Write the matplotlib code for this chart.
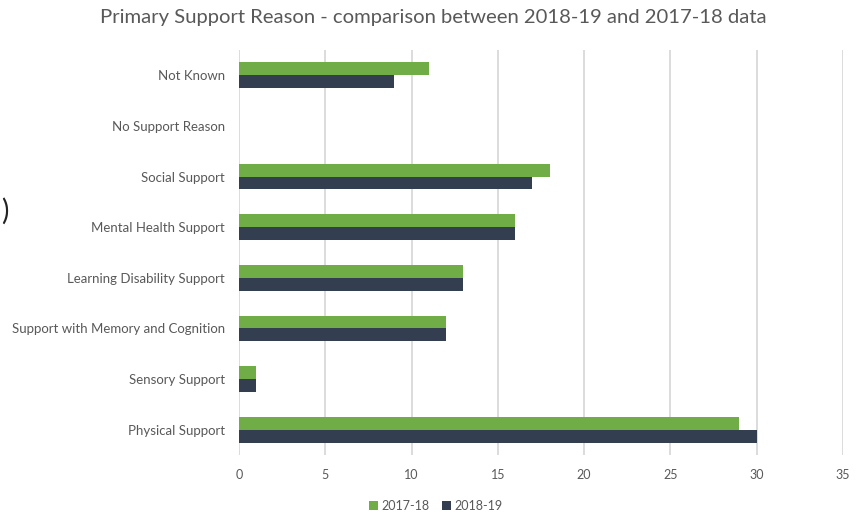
import matplotlib
matplotlib.use("Agg")
import matplotlib.pyplot as plt
import numpy as np

categories = ["Physical Support", "Sensory Support", "Support with Memory and Cognition",
              "Learning Disability Support", "Mental Health Support", "Social Support",
              "No Support Reason", "Not Known"]
vals_1718 = [29, 1, 12, 13, 16, 18, 0, 11]
vals_1819 = [30, 1, 12, 13, 16, 17, 0, 9]
xticks = [0, 5, 10, 15, 20, 25, 30, 35]

plt.rcParams['font.family'] = ['Lato', 'DejaVu Sans']

fig = plt.figure(figsize=(8.62, 5.15), dpi=100)
ax = fig.add_axes([239 / 862, 1 - 455 / 515, (843 - 239) / 862, (455 - 50) / 515])

y = np.arange(len(categories))
h = 0.255
ax.barh(y + h / 2, vals_1718, height=h, color="#70AD47", label="2017-18", zorder=3)
ax.barh(y - h / 2, vals_1819, height=h, color="#333F50", label="2018-19", zorder=3)

ax.set_xlim(0, 35)
ax.set_ylim(-0.5, len(categories) - 0.5)
ax.set_xticks(xticks)
ax.set_yticks(y)
ax.set_yticklabels(categories)
ax.tick_params(axis="both", length=0, labelsize=9, colors="#595959")
ax.tick_params(axis="y", labelsize=9.5, pad=10)
ax.tick_params(axis="x", pad=10)
ax.grid(axis="x", color="#D9D9D9", linewidth=1.3, zorder=0)
for s in ax.spines.values():
    s.set_visible(False)

fig.text(433 / 862, 1 - 18 / 515, "Primary Support Reason - comparison between 2018-19 and 2017-18 data",
         ha="center", va="center", fontsize=14.6, color="#595959")
# stray bracket at the left edge of the original
fig.text(0.001, 1 - 211 / 515, ")", ha="left", va="center", fontsize=20, color="#222222")

ax.legend(loc="center", ncol=2, frameon=False, fontsize=9,
          handlelength=0.7, handleheight=0.7, handletextpad=0.3, columnspacing=1.0,
          labelcolor="#595959")
leg = ax.get_legend()
leg.set_bbox_to_anchor((436 / 862, 1 - 506 / 515), transform=fig.transFigure)

fig.savefig("out.png", dpi=100)
